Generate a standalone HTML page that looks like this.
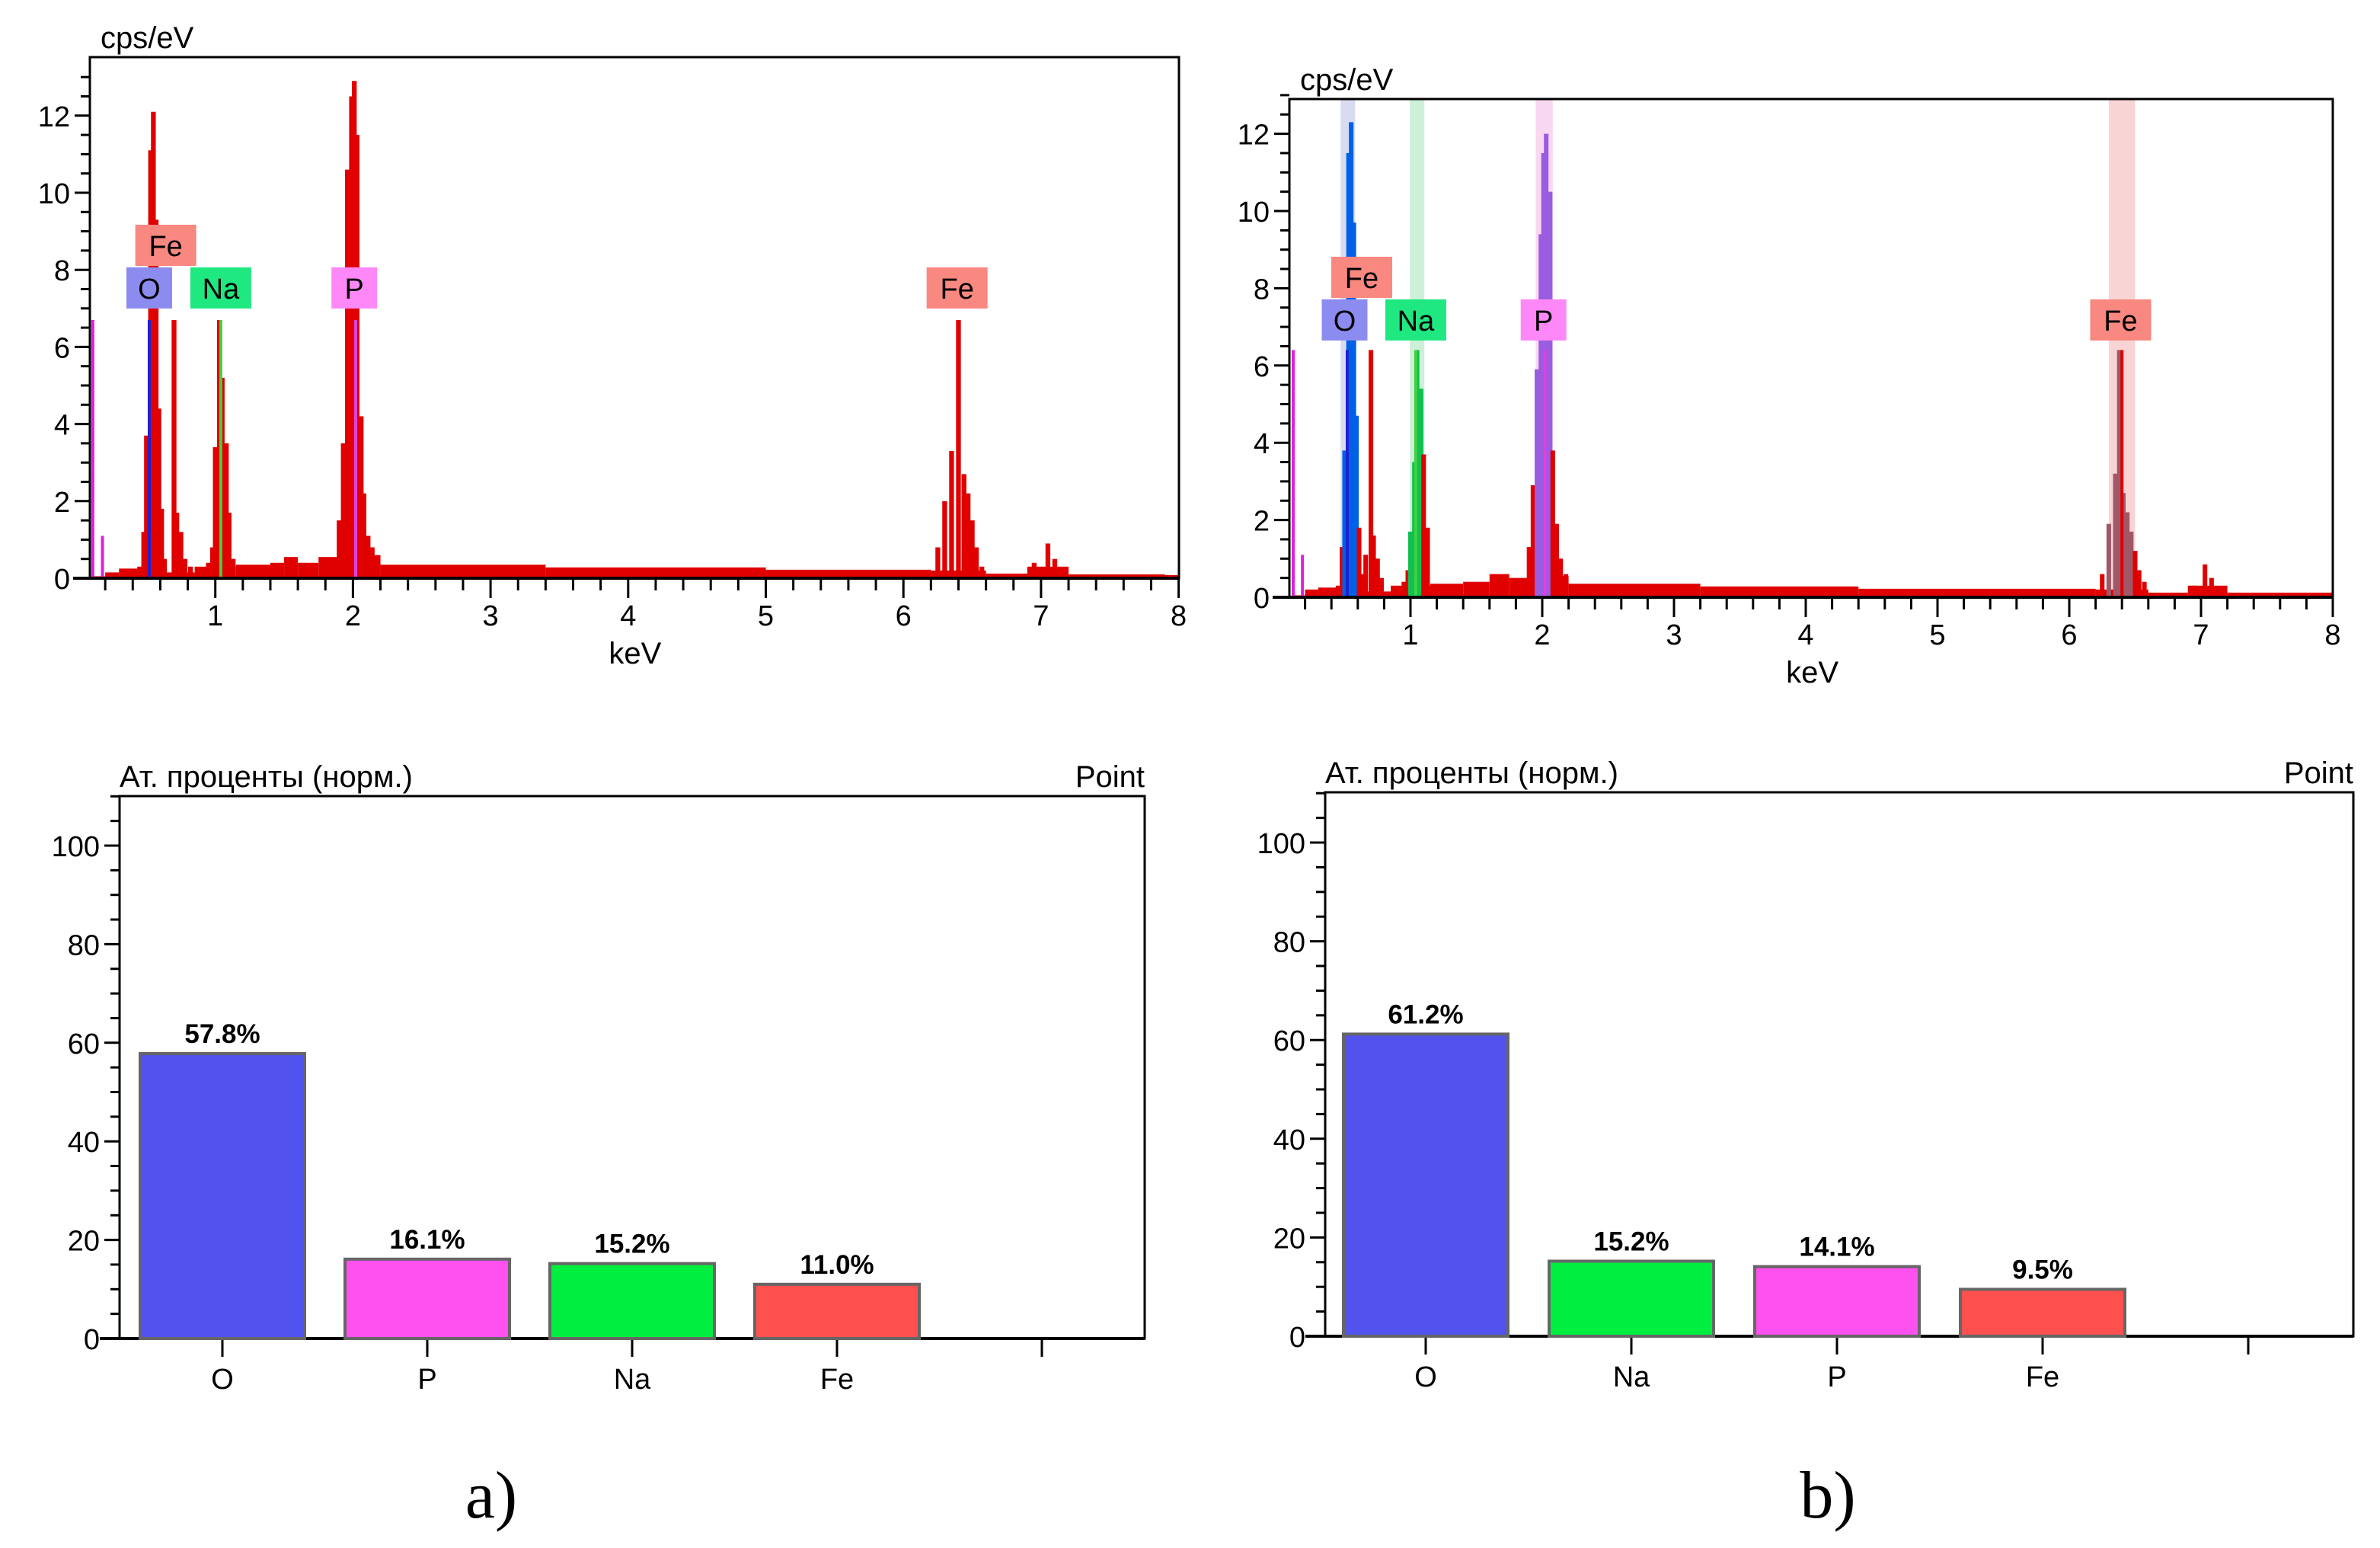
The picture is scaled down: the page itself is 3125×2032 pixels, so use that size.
<!DOCTYPE html>
<html><head><meta charset="utf-8">
<style>
html,body{margin:0;padding:0;background:#fff;}
svg{display:block;}
text{font-family:"Liberation Sans","DejaVu Sans",sans-serif;}
</style></head>
<body>
<svg id="root" width="3125" height="2032" viewBox="0 0 3125 2032" xmlns="http://www.w3.org/2000/svg">
<rect width="3125" height="2032" fill="#fff"/>
<text x="645" y="1992" font-size="88" text-anchor="middle" style="font-family:'Liberation Serif',serif">a)</text>
<text x="2400" y="1992" font-size="88" text-anchor="middle" style="font-family:'Liberation Serif',serif">b)</text>
</svg>
<script>
// ---------- spectrum A data ----------
const specA_peakKeV = [0.45,0.48,0.50,0.53,0.55,0.57,0.59,0.61,0.63,0.70,0.72,0.75,0.78,0.82,0.95,0.98,1.00,1.03,1.05,1.08,1.10,1.13,1.90,1.93,1.96,1.99,2.01,2.03,2.06,2.08,2.11,2.14,2.18,6.25,6.30,6.35,6.40,6.44,6.47,6.50,6.53,6.57,6.95,7.05,7.10];
const specA_peakCps = [0.3,1.2,3.7,11.1,12.1,9.3,4.4,1.8,0.5,6.7,1.7,1.2,0.5,0.3,0.4,0.8,3.4,6.7,5.2,3.5,1.7,0.5,1.5,3.5,10.6,12.5,12.9,11.5,4.2,2.2,1.1,0.8,0.5,0.8,2.0,3.3,6.7,2.7,2.2,1.5,0.8,0.3,0.4,0.9,0.5];
const specA_bgKeV = [0.10,0.20,0.30,0.45,0.85,1.15,1.40,1.50,1.60,1.75,1.90,2.20,3.40,5.00,6.20,6.60,6.90,7.20,7.90,8.00];
const specA_bgCps = [0.05,0.15,0.25,0.15,0.30,0.35,0.40,0.55,0.40,0.55,0.60,0.35,0.28,0.22,0.20,0.12,0.30,0.10,0.08];
const specA_markKeV = [0.11,0.18,0.52,0.70,1.04,2.02,6.40];
const specA_markCps = [6.7,1.1,6.7,6.7,6.7,6.7,6.7];
const specA_markCol = ["#e020e0","#e020e0","#2020d0","#e00000","#40d040","#e040e0","#e00000"];
const specA_labels = ["Fe","O","Na","P","Fe"];
const specA_labelKeV = [0.64,0.52,1.04,2.01,6.39];
const specA_labelRow = [1,0,0,0,0];
const specA_labelCol = ["#f88880","#8c8cf0","#20e880","#ff88f8","#f88880"];
const specA_yTicks = [0,2,4,6,8,10,12];
const specA_xTicks = [1,2,3,4,5,6,7,8];

// ---------- spectrum B data ----------
const specB_peakKeV = [0.45,0.48,0.50,0.53,0.55,0.57,0.59,0.61,0.63,0.66,0.70,0.72,0.75,0.78,0.95,0.98,1.00,1.03,1.05,1.08,1.10,1.13,1.90,1.93,1.96,1.99,2.01,2.03,2.06,2.08,2.11,2.14,2.18,6.25,6.30,6.35,6.38,6.41,6.44,6.47,6.50,6.53,6.57,6.95,7.03,7.08];
const specB_peakCps = [0.3,1.3,3.8,11.5,12.3,9.7,4.7,1.8,0.6,1.1,6.4,1.6,1.0,0.5,0.4,0.7,1.7,3.5,6.4,5.4,3.7,1.8,1.3,2.9,5.9,9.4,11.5,12.0,10.5,3.8,1.9,1.0,0.6,0.6,1.9,3.2,6.4,2.7,2.2,1.7,1.2,0.7,0.4,0.3,0.85,0.5];
const specB_peakCol = ["r","r","b","b","b","b","b","r","r","r","r","r","r","r","r","r","g","g","g","g","r","r","r","r","p","p","p","p","p","r","r","r","r","r","f","f","f","f","f","f","r","r","r","r","r","r"];
const specB_bgKeV = [0.10,0.20,0.30,0.45,0.85,1.15,1.40,1.60,1.75,1.90,2.20,3.20,4.40,6.20,6.60,6.90,7.20,8.00];
const specB_bgCps = [0.05,0.20,0.25,0.15,0.30,0.35,0.40,0.60,0.50,0.55,0.35,0.28,0.22,0.20,0.12,0.30,0.12];
const specB_markKeV = [0.11,0.18,0.52,0.70,1.04,2.02,6.40];
const specB_markCps = [6.4,1.1,6.4,6.4,6.4,6.4,6.4];
const specB_markCol = ["#e020e0","#e020e0","#2020d0","#e00000","#40d040","#e040e0","#e00000"];
const specB_bandKeV = [0.525,1.05,2.015,6.40];
const specB_bandWidth = [0.11,0.11,0.13,0.20];
const specB_bandCol = ["#d8dcf0","#cdf0d8","#f8d8f0","#f8d4d4"];
const specB_labels = ["Fe","O","Na","P","Fe"];
const specB_labelKeV = [0.63,0.50,1.04,2.01,6.39];
const specB_labelRow = [1,0,0,0,0];
const specB_labelCol = ["#f88880","#8c8cf0","#20e880","#ff88f8","#f88880"];

// ---------- bar chart data ----------
const barsA_elements = ["O","P","Na","Fe"];
const barsA_values = [57.8,16.1,15.2,11.0];
const barsA_labels = ["57.8%","16.1%","15.2%","11.0%"];
const barsA_colors = ["#5252ee","#ff50f0","#00ee40","#ff5050"];
const barsB_elements = ["O","Na","P","Fe"];
const barsB_values = [61.2,15.2,14.1,9.5];
const barsB_labels = ["61.2%","15.2%","14.1%","9.5%"];
const barsB_colors = ["#5252ee","#00ee40","#ff50f0","#ff5050"];
const barYTicks = [0,20,40,60,80,100];

const NS = "http://www.w3.org/2000/svg";
const root = document.getElementById('root');
function mk(tag, attrs, parent, txt){
  const e = document.createElementNS(NS, tag);
  for (const k in attrs) e.setAttribute(k, attrs[k]);
  if (txt !== undefined) e.textContent = txt;
  (parent || root).appendChild(e);
  return e;
}

function spectrum(o){
  const g = mk('g', {});
  
  
  const X = k => o.x0 + o.kx * k;
  const Y = v => o.zero - o.vy * v;
  if (o.bandKeV) o.bandKeV.forEach((k,i)=>{
    const r = mk('rect',{x:X(k-o.bandWidth[i]/2), y:o.top, width:o.kx*o.bandWidth[i], height:o.zero-o.top, fill:o.bandCol[i]}, g);
    
    
  });
  for (let i=0;i<o.bgCps.length;i++){
    const r = mk('rect',{x:X(o.bgKeV[i]), y:Y(o.bgCps[i]), width:X(o.bgKeV[i+1])-X(o.bgKeV[i]), height:o.zero-Y(o.bgCps[i]), fill:'#e00000'}, g);
    
    
  }
  const cmap = {r:'#e00000', b:'#0060e8', g:'#10c050', p:'#9a5ce0', f:'#a05868'};
  o.peakKeV.forEach((k,i)=>{
    const c = o.peakCol ? cmap[o.peakCol[i]] : '#e00000';
    const r = mk('rect',{x:X(k)-o.kx*0.0175, y:Y(o.peakCps[i]), width:o.kx*0.035, height:o.zero-Y(o.peakCps[i]), fill:c}, g);
    
    
  });
  o.markKeV.forEach((k,i)=>{
    const l = mk('line',{x1:X(k), x2:X(k), y1:o.zero, y2:Y(o.markCps[i]), stroke:o.markCol[i], 'stroke-width':4}, g);
    
    
  });
  mk('rect',{x:o.left, y:o.top, width:o.right-o.left, height:o.zero-o.top, fill:'none', stroke:'#000', 'stroke-width':3}, g);
  mk('line',{x1:o.left-22, x2:o.right, y1:o.zero, y2:o.zero, stroke:'#000','stroke-width':4}, g);
  for (let v=0; v<=13; v+=0.5){
    const maj = Number.isInteger(v/2);
    mk('line',{x1:o.left-(maj?20:12), x2:o.left, y1:Y(v), y2:Y(v), stroke:'#000','stroke-width':3}, g);
  }
  o.yTicks.forEach(v=>{
    const t = mk('text',{x:o.left-26, y:Y(v)+14, 'font-size':38, 'text-anchor':'end', fill:'#000'}, g, String(v));
    
    
  });
  for (let k=0.2; k<=8.001; k+=0.2){
    const kk = Math.round(k*10)/10;
    if (X(kk) < o.left) continue;
    const maj = Number.isInteger(kk);
    mk('line',{x1:X(kk), x2:X(kk), y1:o.zero, y2:o.zero+(maj?26:16), stroke:'#000','stroke-width':3}, g);
  }
  o.xTicks.forEach(k=>{
    const t = mk('text',{x:X(k), y:o.zero+62, 'font-size':38, 'text-anchor':'middle', fill:'#000'}, g, String(k));
    
    
  });
  const xt = mk('text',{x:X(4.05), y:o.zero+112, 'font-size':40, 'text-anchor':'middle'}, g, 'keV');
  
  
  const yt = mk('text',{x:o.left+14, y:o.top-12, 'font-size':40}, g, 'cps/eV');
  
  
  o.labels.forEach((s,i)=>{
    const w = s.length > 1 ? 80 : 60;
    const cy = o.labelY - o.labelRow[i]*56;
    const lg = mk('g',{}, g);
    
    
    mk('rect',{x:X(o.labelKeV[i])-w/2, y:cy, width:w, height:54, fill:o.labelCol[i]}, lg);
    mk('text',{x:X(o.labelKeV[i]), y:cy+41, 'font-size':38, 'text-anchor':'middle', fill:'#000'}, lg, s);
  });
}

spectrum({name:'spectrum-a', x0:102, kx:180.7, zero:759, vy:50.6, top:75, left:118, right:1548,
  peakKeV:specA_peakKeV, peakCps:specA_peakCps, bgKeV:specA_bgKeV, bgCps:specA_bgCps,
  markKeV:specA_markKeV, markCps:specA_markCps, markCol:specA_markCol,
  labels:specA_labels, labelKeV:specA_labelKeV, labelRow:specA_labelRow, labelCol:specA_labelCol, labelY:351,
  yTicks:specA_yTicks, xTicks:specA_xTicks});
spectrum({name:'spectrum-b', x0:1679, kx:173, zero:784, vy:50.7, top:130, left:1693, right:3063,
  peakKeV:specB_peakKeV, peakCps:specB_peakCps, peakCol:specB_peakCol, bgKeV:specB_bgKeV, bgCps:specB_bgCps,
  markKeV:specB_markKeV, markCps:specB_markCps, markCol:specB_markCol,
  bandKeV:specB_bandKeV, bandWidth:specB_bandWidth, bandCol:specB_bandCol,
  labels:specB_labels, labelKeV:specB_labelKeV, labelRow:specB_labelRow, labelCol:specB_labelCol, labelY:393,
  yTicks:specA_yTicks, xTicks:specA_xTicks});

function bars(o){
  const g = mk('g', {});
  
  
  const Y = v => o.zero - o.vy * v;
  const C = i => o.c0 + o.step * i;
  mk('rect',{x:o.left, y:o.top, width:o.right-o.left, height:o.zero-o.top, fill:'none', stroke:'#000','stroke-width':3}, g);
  mk('line',{x1:o.left-26, x2:o.right, y1:o.zero, y2:o.zero, stroke:'#000','stroke-width':4}, g);
  for (let v=0; v<=110; v+=5){
    const maj = v%20===0;
    mk('line',{x1:o.left-(maj?20:12), x2:o.left, y1:Y(v), y2:Y(v), stroke:'#000','stroke-width':3}, g);
  }
  barYTicks.forEach(v=>{
    const t = mk('text',{x:o.left-26, y:Y(v)+14, 'font-size':38, 'text-anchor':'end'}, g, String(v));
    
    
  });
  for (let i=0;i<=o.elements.length;i++){
    mk('line',{x1:C(i), x2:C(i), y1:o.zero, y2:o.zero+24, stroke:'#000','stroke-width':3}, g);
  }
  o.values.forEach((v,i)=>{
    const r = mk('rect',{x:C(i)-108, y:Y(v), width:216, height:o.zero-Y(v), fill:o.colors[i], stroke:'#666','stroke-width':4}, g);
    
    
    const t = mk('text',{x:C(i), y:Y(v)-14, 'font-size':35, 'font-weight':'bold', 'text-anchor':'middle'}, g, o.labels[i]);
    
    
    const c = mk('text',{x:C(i), y:o.zero+66, 'font-size':38, 'text-anchor':'middle'}, g, o.elements[i]);
    
    
  });
  const tt = mk('text',{x:o.left, y:o.top-12, 'font-size':40}, g, 'Ат. проценты (норм.)');
  
  
  const pt = mk('text',{x:o.right, y:o.top-12, 'font-size':40, 'text-anchor':'end'}, g, 'Point');
  
  
}
bars({name:'bar-chart-a', left:157, right:1503, top:1045, zero:1757, vy:6.47, c0:292, step:269,
  elements:barsA_elements, values:barsA_values, labels:barsA_labels, colors:barsA_colors});
bars({name:'bar-chart-b', left:1740, right:3090, top:1040, zero:1754, vy:6.48, c0:1872, step:270,
  elements:barsB_elements, values:barsB_values, labels:barsB_labels, colors:barsB_colors});
</script>
</body></html>
